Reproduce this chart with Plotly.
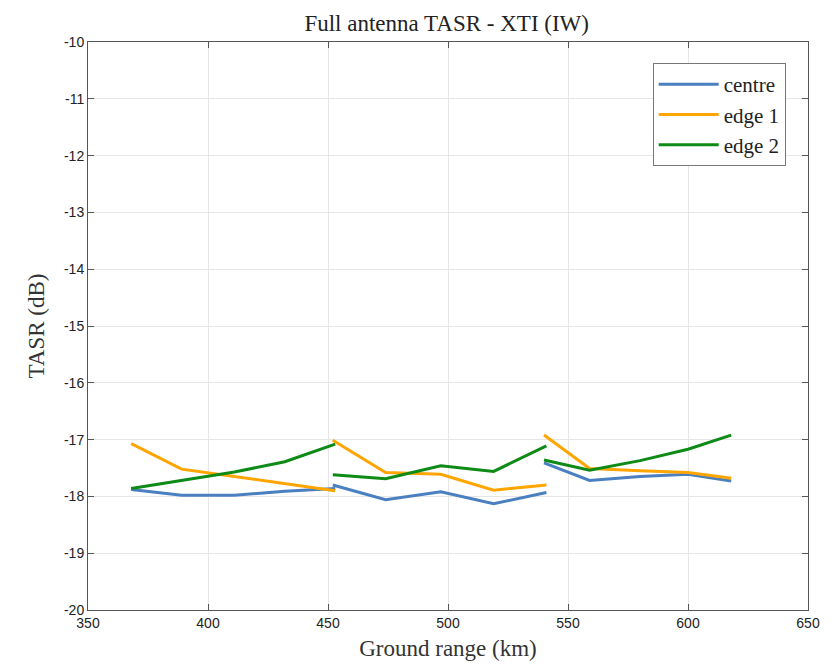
import plotly.graph_objects as go

# Ground range (km), three swaths separated by None gaps
x_km = [368, 389, 411, 432, 453, None,
        452, 474, 497, 519, 541, None,
        540, 559, 580, 600, 618]

centre = [-17.88, -17.98, -17.98, -17.91, -17.86, None,
          -17.80, -18.06, -17.92, -18.13, -17.93, None,
          -17.41, -17.72, -17.65, -17.61, -17.73]
edge1 = [-17.07, -17.52, -17.65, -17.77, -17.90, None,
         -17.01, -17.58, -17.61, -17.89, -17.80, None,
         -16.92, -17.51, -17.55, -17.58, -17.68]
edge2 = [-17.86, -17.72, -17.57, -17.39, -17.08, None,
         -17.62, -17.69, -17.46, -17.56, -17.11, None,
         -17.36, -17.54, -17.37, -17.17, -16.92]

series = [("centre", centre, "#4A7FC0"),
          ("edge 1", edge1, "#FFA500"),
          ("edge 2", edge2, "#0E8A16")]

y_ticks = list(range(-20, -9))
y_labels = [str(v) for v in y_ticks]   # plain hyphen minus
x_ticks = list(range(350, 651, 50))

fig = go.Figure()
for name, vals, col in series:
    fig.add_trace(go.Scatter(x=x_km, y=vals, name=name, mode="lines",
                             line=dict(color=col, width=3), connectgaps=False))

axis_common = dict(showline=True, linecolor="#555555", linewidth=1, mirror="ticks",
                   ticks="inside", ticklen=6, tickcolor="#555555",
                   showgrid=True, gridcolor="#E6E6E6", gridwidth=1, zeroline=False,
                   tickfont=dict(family="Liberation Sans, Arial", size=14, color="#222222"))

fig.update_layout(
    width=835, height=671,
    margin=dict(l=88, r=27, t=42, b=61),
    paper_bgcolor="white", plot_bgcolor="white",
    title=dict(text="Full antenna TASR - XTI (IW)", x=0.535, xanchor="center",
               y=0.978, yanchor="top",
               font=dict(family="Liberation Serif, Times New Roman, serif", size=23, color="#222222")),
    xaxis=dict(range=[350, 650], tickvals=x_ticks,
               title=dict(text="Ground range (km)", standoff=10,
                          font=dict(family="Liberation Serif, serif", size=23, color="#333333")),
               **axis_common),
    yaxis=dict(range=[-20, -10], tickvals=y_ticks, ticktext=y_labels,
               title=dict(text="TASR (dB)", standoff=12,
                          font=dict(family="Liberation Serif, serif", size=23, color="#333333")),
               **axis_common),
    legend=dict(x=0.969, y=0.963, xanchor="right", yanchor="top",
                bgcolor="white", bordercolor="#777777", borderwidth=1,
                font=dict(family="Liberation Serif, serif", size=21, color="#222222"),
                itemwidth=60, tracegroupgap=0),
    showlegend=True,
)

fig.write_html("out.html")
